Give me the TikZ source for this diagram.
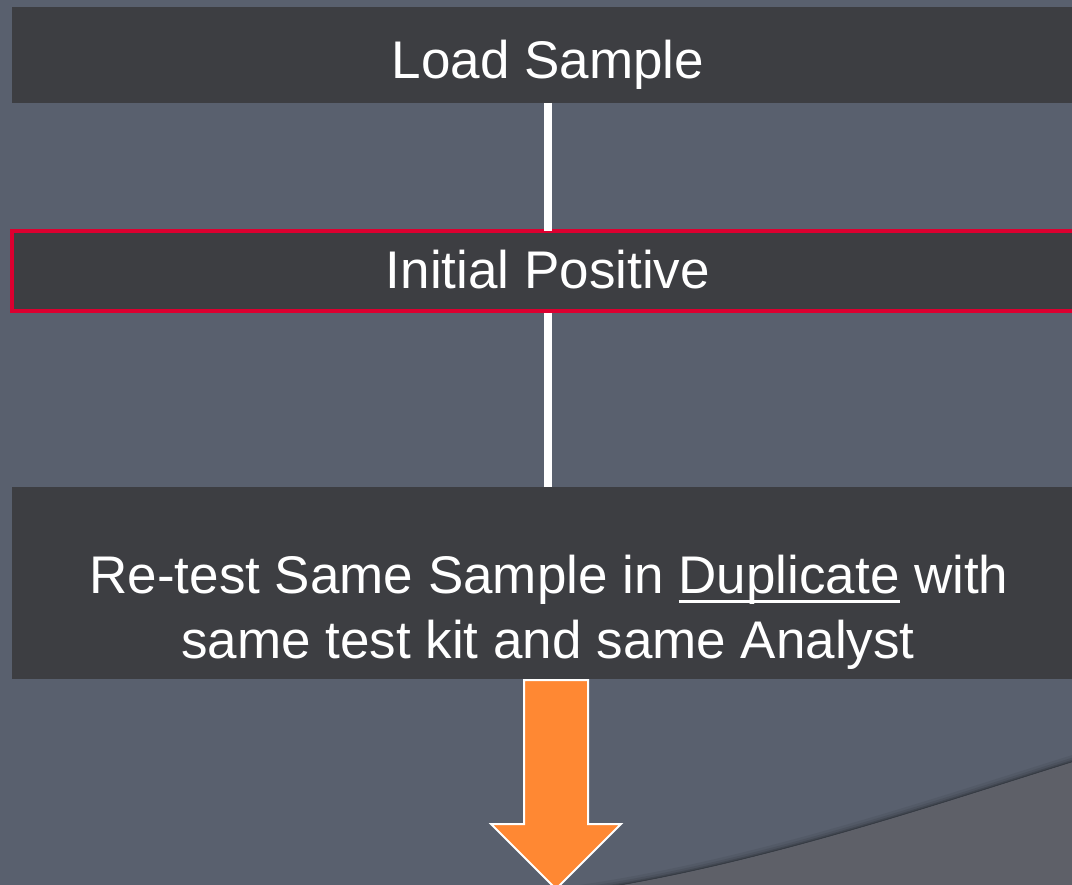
\documentclass[tikz,border=0pt]{standalone}
\usepackage{fontspec}
\setmainfont{Liberation Sans}
\definecolor{slate}{HTML}{59606E}
\definecolor{slatelow}{HTML}{5E6068}
\definecolor{boxgray}{HTML}{3D3E42}
\definecolor{alertred}{HTML}{DC0030}
\definecolor{arroworange}{HTML}{FF8833}
% underline that runs through descenders, as in slide software
\newcommand\slideuline[1]{\setbox0\hbox{#1}\rlap{\rule[-0.18em]{\wd0}{0.055em}}\box0\relax}
\begin{document}
\begin{tikzpicture}[x=1pt,y=-1pt,
  box/.style={fill=boxgray, draw=none, minimum width=1072pt, outer sep=0pt, inner sep=0pt},
  alertbox/.style={box, draw=alertred, line width=4pt},
  label/.style={text=white, anchor=base, inner sep=0pt,
    font=\fontsize{53}{64}\selectfont},
  conn/.style={draw=white, line width=8pt},
  bigarrow/.style={fill=arroworange, draw=white, line width=2pt, line join=miter}]
\useasboundingbox (0,0) rectangle (1072,885);
\clip (0,0) rectangle (1072,885);
% slide background with the lighter swoosh at the lower right
\fill[slate] (0,0) rectangle (1072,885);
\begin{scope}
  \clip (580,892) .. controls (760,866) and (950,800) .. (1080,760) -- (1080,0) -- (0,0) -- (0,900) -- cycle;
  \foreach \w/\o in {14/0.06,9/0.08,5/0.12,2.5/0.16}
    \draw[black, line width=\w pt, opacity=\o] (580,892) .. controls (760,866) and (950,800) .. (1080,760);
\end{scope}
\fill[slatelow] (580,892) .. controls (760,866) and (950,800) .. (1080,760) -- (1080,900) -- cycle;

% flow boxes
\node[box, minimum height=96pt] (load) at (548,55) {};
\node[alertbox, minimum height=80pt] (pos) at (548,271) {};
\node[box, minimum height=192pt] (retest) at (548,583) {};

% connectors
\draw[conn] (load.south) -- (pos.north);
\draw[conn] ([yshift=-2pt]pos.south) -- (retest.north);

% box texts
\node[label] (loadtxt) at (548,79) {Load Sample};
\node[label] (postxt) at (548,289) {Initial Positive};
\node[label] (retesttxt1) at (549,593) {Re-test Same Sample in \slideuline{Duplicate} with};
\node[label] (retesttxt2) at (548,658) {same test kit and same Analyst};

% block arrow pointing down
\draw[bigarrow] (524,680) -- (588,680) -- (588,824) -- (621,824) -- (556,889)
  -- (491,824) -- (524,824) -- cycle;
\end{tikzpicture}
\end{document}
